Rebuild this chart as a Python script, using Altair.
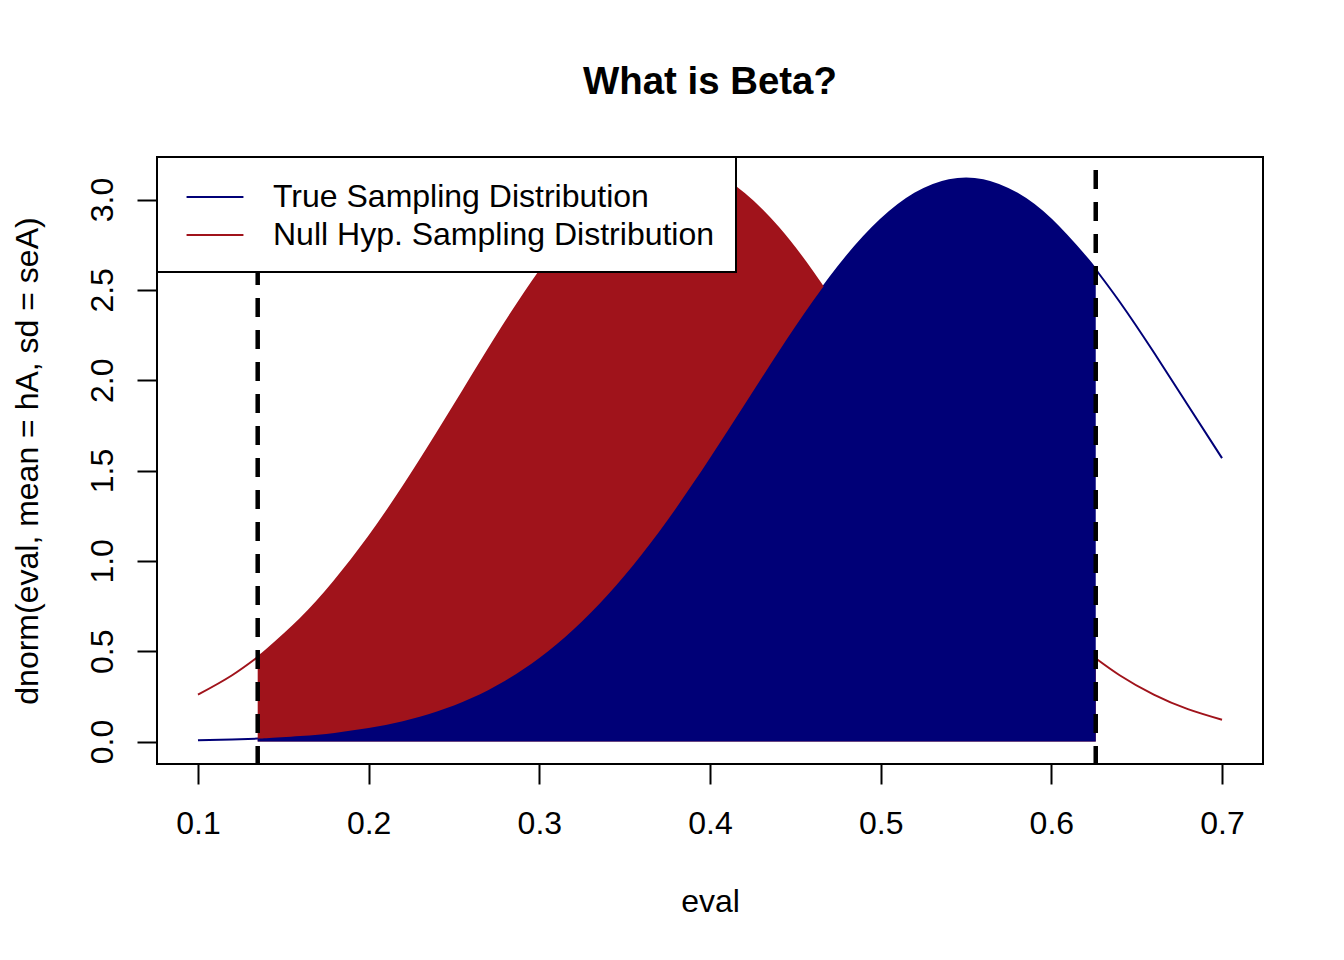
import altair as alt
import pandas as pd

# x positions read along the eval axis
x_vals = [0.10, 0.12, 0.135, 0.14, 0.16, 0.18, 0.20, 0.22, 0.24, 0.26, 0.28, 0.30,
          0.32, 0.34, 0.36, 0.38, 0.40, 0.42, 0.44, 0.46, 0.48, 0.50, 0.52, 0.54,
          0.56, 0.58, 0.60, 0.62, 0.626, 0.64, 0.66, 0.68, 0.70]
# density of the true sampling distribution (blue)
true_vals = [0.0065, 0.0110, 0.0163, 0.0184, 0.0300, 0.0478, 0.0742, 0.1123, 0.1659,
             0.2393, 0.3369, 0.4629, 0.6206, 0.8113, 1.0357, 1.2904, 1.5687, 1.8611,
             2.1543, 2.4342, 2.6839, 2.8877, 3.0324, 3.1073, 3.1073, 3.0324, 2.8877,
             2.6839, 2.6132, 2.4342, 2.1543, 1.8611, 1.5687]
# density of the null hypothesis sampling distribution (red)
null_vals = [0.2597, 0.3669, 0.4676, 0.5053, 0.6783, 0.8874, 1.1317, 1.4068, 1.7046,
             2.0131, 2.3175, 2.6004, 2.8442, 3.0322, 3.1509, 3.1915, 3.1509, 3.0322,
             2.8442, 2.6004, 2.3175, 2.0131, 1.7046, 1.4068, 1.1317, 0.8874, 0.6783,
             0.5053, 0.4603, 0.3669, 0.2597, 0.1791, 0.1205]
# critical values (dashed lines)
crit_vals = [0.135, 0.626]

series_names = ["True Sampling Distribution", "Null Hyp. Sampling Distribution"]
x_ticks = [0.1, 0.2, 0.3, 0.4, 0.5, 0.6, 0.7]
y_ticks = [0.0, 0.5, 1.0, 1.5, 2.0, 2.5, 3.0]

BLUE = "#000077"
RED = "#A0131B"
FONT = "Liberation Sans"

df = pd.DataFrame({
    "x": x_vals * 2,
    "y": true_vals + null_vals,
    "series": [series_names[0]] * len(x_vals) + [series_names[1]] * len(x_vals),
})
crit_df = pd.DataFrame({"x": crit_vals})

xscale = alt.Scale(domain=[0.076, 0.724], nice=False, zero=False)
yscale = alt.Scale(domain=[-0.1244, 3.2354], nice=False, zero=False)

xaxis = alt.Axis(values=x_ticks, format=".1f", title="eval", labelPadding=24,
                 labelBaseline="top", titleX=553, titleY=147,
                 titleBaseline="alphabetic", titleAlign="center")
yaxis = alt.Axis(values=y_ticks, format=".1f", title="dnorm(eval, mean = hA, sd = seA)",
                 labelAngle=270, labelAlign="center", labelBaseline="alphabetic",
                 labelPadding=25, titleAngle=270, titleX=-120, titleY=303.5,
                 titleBaseline="alphabetic", titleAlign="center")

base = alt.Chart(df)
rng = alt.FieldRangePredicate(field="x", range=[crit_vals[0], crit_vals[1]])

lines = base.mark_line(strokeWidth=2, interpolate="natural").encode(
    x=alt.X("x:Q", scale=xscale, axis=xaxis),
    y=alt.Y("y:Q", scale=yscale, axis=yaxis),
    color=alt.Color(
        "series:N",
        scale=alt.Scale(domain=series_names, range=[BLUE, RED]),
        legend=alt.Legend(
            title=None, orient="none", legendX=0, legendY=0,
            symbolType="M-0.58,0H2.58", symbolSize=1296, symbolStrokeWidth=2,
            labelFontSize=32, labelFont=FONT, labelColor="black", labelOffset=57,
            labelLimit=2000, padding=21, rowPadding=3,
            strokeColor="black", fillColor="white",
        ),
    ),
)

red_area = base.transform_filter(alt.datum.series == series_names[1]).transform_filter(rng).mark_area(
    color=RED, interpolate="natural"
).encode(
    x=alt.X("x:Q", scale=xscale),
    y=alt.Y("y:Q", scale=yscale),
    y2=alt.datum(0),
)

blue_area = base.transform_filter(alt.datum.series == series_names[0]).transform_filter(rng).mark_area(
    color=BLUE, interpolate="natural"
).encode(
    x=alt.X("x:Q", scale=xscale),
    y=alt.Y("y:Q", scale=yscale),
    y2=alt.datum(0),
)

rules = alt.Chart(crit_df).mark_rule(
    color="black", strokeWidth=4.5, strokeDash=[19, 13], strokeDashOffset=19, clip=True
).encode(x=alt.X("x:Q", scale=xscale))

chart = alt.layer(lines, red_area, blue_area, rules).properties(
    width=1106, height=607,
    title=alt.TitleParams("What is Beta?", font=FONT, fontSize=38.4, fontWeight="bold",
                          color="black", anchor="middle", baseline="alphabetic", offset=24),
    autosize=alt.AutoSizeParams(type="none"),
    padding={"left": 149, "top": 149, "right": 70, "bottom": 180},
).configure_view(
    stroke="black", strokeWidth=2
).configure_axis(
    domain=False, grid=False, ticks=True, tickSize=20, tickWidth=2, tickColor="black",
    labelFont=FONT, labelFontSize=32, labelColor="black",
    titleFont=FONT, titleFontSize=32, titleFontWeight="normal", titleColor="black",
).configure_legend(
    strokeWidth=2
)

chart.save("out.html", embed_options={"renderer": "svg", "actions": False})
